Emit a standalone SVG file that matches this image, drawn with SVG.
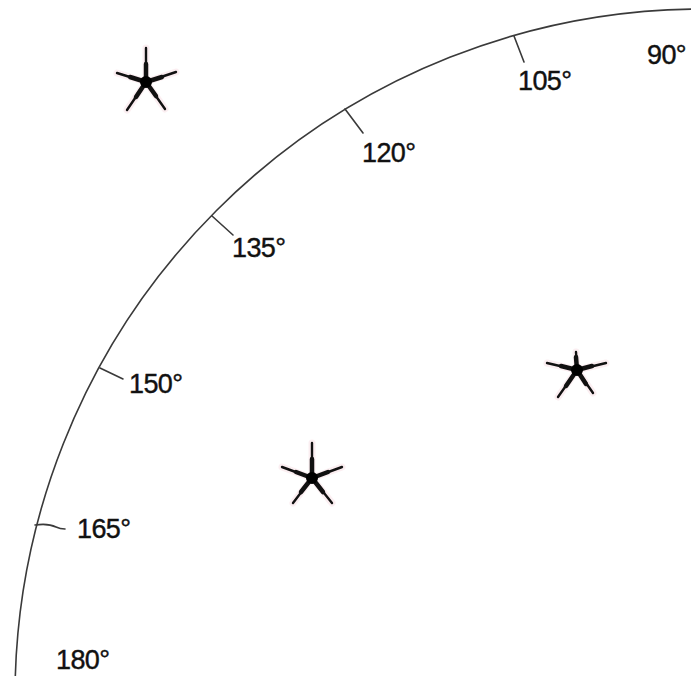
<svg xmlns="http://www.w3.org/2000/svg" width="691" height="676" viewBox="0 0 691 676">
<style>
.arc{fill:none;stroke:#3a3a3a;stroke-width:1.6}
.tick{stroke:#3a3a3a;stroke-width:1.6;fill:none;stroke-linecap:round}
.lbl{font-family:"Liberation Sans",Arial,sans-serif;font-size:27px;fill:#111;stroke:#111;stroke-width:0.4;letter-spacing:-0.6px}
.ray{stroke:#111;stroke-width:2.4;stroke-linecap:round;fill:none}
.rayb{stroke:#111;stroke-width:4.5;stroke-linecap:round;fill:none}
.halo{stroke:#f4cdd6;stroke-width:7;stroke-linecap:round;fill:none;opacity:0.35}
.core{fill:#000}
</style>
<rect width="691" height="676" fill="#fff"/>
<g id="scale">
<path class="arc" d="M 15 697 A 688 688 0 0 1 703 9"/>
<line class="tick" x1="514" y1="36" x2="524" y2="62"/>
<line class="tick" x1="345" y1="109" x2="363" y2="133"/>
<line class="tick" x1="212" y1="216" x2="233" y2="235"/>
<line class="tick" x1="100" y1="368" x2="123" y2="379"/>
<path class="tick" d="M 35 525 Q 48 523 56 527 Q 60 529 65 529"/>
</g>
<g id="labels">
<text class="lbl" x="647" y="64">90°</text>
<text class="lbl" x="518" y="90">105°</text>
<text class="lbl" x="362" y="162">120°</text>
<text class="lbl" x="232" y="257">135°</text>
<text class="lbl" x="129" y="393">150°</text>
<text class="lbl" x="77" y="538">165°</text>
<text class="lbl" x="56" y="669">180°</text>
</g>
<g id="star1">
<path class="halo" d="M146 82L146 48M146 82L117 73M146 82L176 72M146 82L127 110M146 82L165 109"/>
<path class="ray" d="M146 82L146 48M146 82L117 73M146 82L176 72M146 82L127 110M146 82L165 109"/>
<path class="rayb" d="M146 82L146 64M146 82L130 77M146 82L162 77M146 82L136 97M146 82L156 96"/>
<circle class="core" cx="146" cy="82" r="6"/>
</g>
<g id="star2">
<path class="halo" d="M577 370L576 352M577 370L547 363M577 370L606 363M577 370L558 397M577 370L593 393"/>
<path class="ray" d="M577 370L576 352M577 370L547 363M577 370L606 363M577 370L558 397M577 370L593 393"/>
<path class="rayb" d="M577 370L576 357M577 370L561 366M577 370L592 366M577 370L566 386M577 370L586 384"/>
<circle class="core" cx="577" cy="370" r="6"/>
</g>
<g id="star3">
<path class="halo" d="M312 478L312 443M312 478L282 467M312 478L342 467M312 478L293 503M312 478L332 503"/>
<path class="ray" d="M312 478L312 443M312 478L282 467M312 478L342 467M312 478L293 503M312 478L332 503"/>
<path class="rayb" d="M312 478L312 459M312 478L296 472M312 478L328 472M312 478L301 492M312 478L323 492"/>
<circle class="core" cx="312" cy="478" r="6"/>
</g>
</svg>
